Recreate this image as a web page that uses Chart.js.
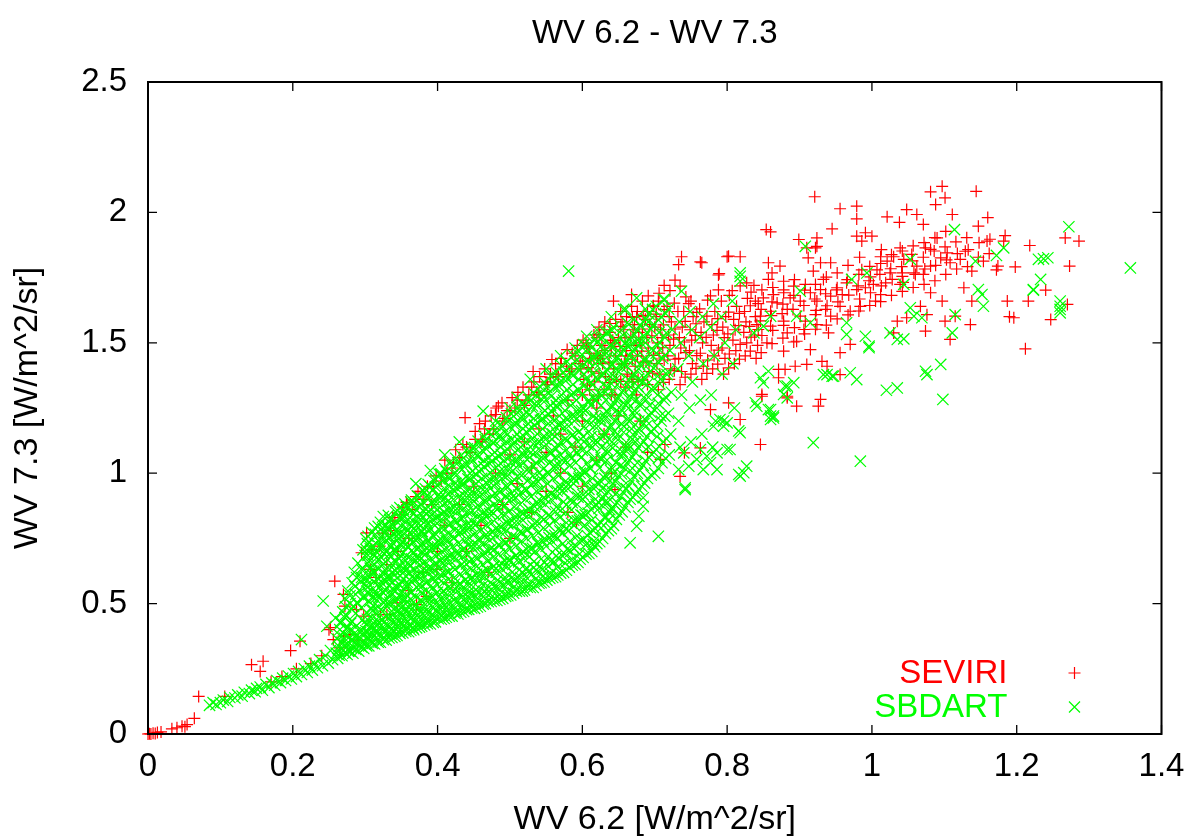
<!DOCTYPE html>
<html>
<head>
<meta charset="utf-8">
<script src="https://cdn.jsdelivr.net/npm/chart.js@4.4.1/dist/chart.umd.min.js"></script>
<style>html,body{margin:0;padding:0;background:#fff;}canvas{display:block;}</style>
</head>
<body>
<canvas id="c" width="1190" height="837"></canvas>
<script>
const xTickValues = [0, 0.2, 0.4, 0.6, 0.8, 1, 1.2, 1.4];
const xTickLabels = ['0', '0.2', '0.4', '0.6', '0.8', '1', '1.2', '1.4'];
const yTickValues = [0, 0.5, 1, 1.5, 2, 2.5];
const yTickLabels = ['0', '0.5', '1', '1.5', '2', '2.5'];
const seriesNames = ['SEVIRI', 'SBDART'];
const seriesColors = ['#ff0000', '#00ff00'];
const chartTitle = 'WV 6.2 - WV 7.3';
const xTitle = 'WV 6.2 [W/m^2/sr]';
const yTitle = 'WV 7.3 [W/m^2/sr]';

// SEVIRI (red +): main readings
const seviriMain = [
[0,0],[.002,.001],[.004,0],[.007,.003],[.01,.002],[.013,.006],[.018,.008],[.033,.02],[.04,.024],[.047,.03],[.051,.028],[.054,.036],[.064,.06],[.07,.144],[.106,.144],
[.143,.266],[.155,.24],[.159,.279],[.17,.2],[.185,.22],[.197,.32],[.205,.25],[.21,.356],[.225,.27],[.24,.3],[.25,.4],[.252,.408],[.256,.362],[.27,.375],[.279,.381],[.265,.33],[.29,.36],
[.258,.586],[.27,.535],[.272,.49],[.288,.477],[.298,.452],[.295,.695],[.302,.771],[.307,.631],[.309,.707],[.321,.458],[.33,.458],[.341,.816],[.344,.503],[.357,.888],[.358,.88],[.371,.496],[.373,.93],[.385,.528],[.392,.88],[.394,.95],[.399,.631],[.405,.97],[.413,1.0],[.42,1.02],[.422,1.04],[.43,1.06],[.435,1.11],[.438,1.213],[.445,1.08],[.452,1.13],[.46,1.12],[.465,1.17],[.472,1.15],[.32,.72],[.335,.78],[.35,.84],[.365,.86],[.38,.9],[.315,.6],[.33,.65],[.345,.7],[.36,.75],
[.36,.55],[.38,.62],[.4,.7],[.41,.8],[.42,.58],[.43,.88],[.44,.7],[.45,.95],[.46,.8],[.47,.62],[.48,1.0],[.49,.88],[.5,1.07],[.5,.75],[.51,.96],[.52,1.12],[.53,.85],[.53,1.02],[.54,1.17],[.55,.93],[.55,1.08],[.56,1.22],[.57,1.0],[.57,1.15],[.58,1.28],[.58,.85],[.59,1.1],[.6,1.2],[.6,.95],[.61,1.32],[.62,1.05],[.62,1.25],[.63,1.15],[.64,1.3],[.64,1.0],[.65,1.22],[.66,1.1],[.67,1.35],[.68,1.2],[.69,1.08],
[.48,1.225],[.484,1.257],[.49,1.2],[.5,1.24],[.51,1.28],[.52,1.26],[.53,1.33],[.532,1.39],[.54,1.3],[.55,1.35],[.556,1.367],[.558,1.436],[.565,1.38],[.57,1.42],[.579,1.474],[.585,1.4],[.59,1.45],[.6,1.43],[.605,1.5],[.61,1.46],[.62,1.52],[.625,1.44],[.63,1.55],[.64,1.48],[.643,1.66],[.65,1.52],[.655,1.58],[.66,1.45],[.668,1.685],[.67,1.55],[.675,1.6],[.68,1.5],[.69,1.62],[.7,1.56],[.705,1.66],[.71,1.52],[.72,1.6],[.733,1.8],[.735,1.717],[.737,1.83],[.74,1.62],[.75,1.66],[.763,1.81],[.788,1.76],[.8,1.83],[.818,1.83],
[.6,1.3],[.602,1.36],[.598,1.4],
[.615,1.28],[.617,1.35],[.613,1.39],[.616,1.44],
[.63,1.32],[.632,1.37],[.628,1.42],[.631,1.47],
[.645,1.3],[.647,1.36],[.643,1.4],[.646,1.45],[.644,1.5],
[.66,1.33],[.662,1.38],[.658,1.42],[.661,1.47],[.659,1.52],
[.675,1.3],[.677,1.36],[.673,1.41],[.676,1.45],[.674,1.49],[.678,1.54],
[.69,1.34],[.692,1.39],[.688,1.43],[.691,1.48],[.689,1.52],[.693,1.57],
[.705,1.32],[.707,1.38],[.703,1.42],[.706,1.46],[.704,1.5],[.708,1.55],[.702,1.6],
[.72,1.36],[.722,1.4],[.718,1.45],[.721,1.49],[.719,1.53],[.723,1.58],
[.735,1.34],[.737,1.39],[.733,1.44],[.736,1.48],[.734,1.52],[.738,1.56],[.732,1.62],
[.75,1.38],[.752,1.42],[.748,1.47],[.751,1.51],[.749,1.55],[.753,1.6],[.747,1.65],
[.765,1.36],[.767,1.41],[.763,1.46],[.766,1.5],[.764,1.54],[.768,1.58],[.762,1.63],
[.78,1.4],[.782,1.45],[.778,1.49],[.781,1.53],[.779,1.57],[.783,1.62],[.777,1.68],
[.795,1.38],[.797,1.44],[.793,1.48],[.796,1.52],[.794,1.56],[.798,1.6],[.792,1.66],
[.81,1.42],[.812,1.47],[.808,1.51],[.811,1.55],[.809,1.59],[.813,1.64],[.807,1.7],
[.825,1.45],[.827,1.5],[.823,1.54],[.826,1.58],[.824,1.62],[.828,1.67],
[.84,1.44],[.842,1.49],[.838,1.53],[.841,1.57],[.839,1.6],[.843,1.65],[.837,1.72],
[.839,1.66],[.843,1.551],[.846,1.602],[.85,1.672],[.855,1.5],[.86,1.621],[.86,1.564],[.864,1.685],[.869,1.653],[.871,1.398],[.878,1.692],[.878,1.583],[.878,1.468],[.883,1.628],[.883,1.538],[.887,1.672],[.892,1.717],[.896,1.506],[.901,1.66],[.901,1.602],[.906,1.551],[.908,1.724],[.915,1.692],[.915,1.474],[.922,1.608],[.924,1.66],[.924,1.57],[.929,1.704],[.936,1.628],[.94,1.538],[.943,1.679],[.943,1.602],[.952,1.711],[.956,1.64],[.956,1.462],[.959,1.685],[.965,1.73],[.97,1.621],[.97,1.494],[.979,1.704],[.984,1.64],[.986,1.78],[.991,1.711],[.998,1.753],[1.002,1.724],[1.005,1.66],[1.007,1.78],[1.012,1.685],[1.012,1.83],[1.019,1.73],[1.021,1.813],[1.025,1.768],[1.03,1.83],[1.03,1.538],[1.035,1.583],[1.039,1.864],[1.039,1.724],[1.042,1.755],[1.042,1.768],[1.044,1.82],[1.048,1.596],[1.055,1.839],[1.06,1.762],[1.062,1.794],[1.067,1.64],[1.071,1.762],[1.074,1.545],[1.076,1.608],[1.081,1.858],[1.081,1.794],[1.081,1.692],[1.095,1.826],[1.097,1.66],[1.101,1.583],[1.104,1.845],[1.108,1.807],[1.108,1.513],[1.115,1.602],[1.122,1.82],[1.127,1.711],[1.129,1.851],[1.136,1.57],[1.138,1.775],[1.138,1.66],[1.154,1.813],[1.172,1.78],[1.174,1.794],[1.187,1.66],[1.196,1.596],[1.198,1.791],[1.216,1.66],[1.24,1.702],[1.247,1.589],[1.27,1.647],[1.273,1.794],[1.212,1.477],[1.19,1.6],
[.854,1.934],[.86,1.925],[.899,1.896],[.924,1.902],[.922,1.864],[.945,1.937],[.979,1.909],[.991,1.922],[1.0,1.909],[.986,1.89],[1.071,1.954],[1.09,1.902],[1.074,1.864],[1.184,1.911],[1.147,1.947],[1.159,1.89],[1.182,1.89],[1.218,1.873],[1.267,1.902],[1.286,1.89],[1.097,2.1],[1.081,2.079],[1.144,2.081],[.921,2.06],[.979,2.024],[.956,2.014],[.979,1.975],[1.021,1.983],[1.048,2.011],[1.062,1.992],[1.038,1.962],[1.101,2.056],[1.088,2.03],[1.111,1.992],[1.16,1.98],[.91,1.864],[.924,1.87],[.912,1.826],[.929,1.807],[.943,1.807],[.919,1.775],[.933,1.743],[.857,1.807],[.873,1.794],[.857,1.743],[.862,1.768],[.827,1.73],[.878,1.736],[.765,1.807],[.802,1.832],[.789,1.765],
[.592,.81],[.645,.937],[.735,.988],[.741,1.078],[.714,1.11],[.708,1.053],[.763,1.097],[.846,1.11],[.848,1.295],[.883,1.295],[.802,1.27],[.777,1.244],[.818,1.206],[.896,1.257],[.926,1.257],[.929,1.283],[.871,1.366],[.88,1.398],[.894,1.41],[.91,1.417],[.931,1.429],[.938,1.41],[.956,1.378],[.848,1.302],[.883,1.289]
];

// SEVIRI: dense upper band (0.6 - 1.17)
const seviriBand = [
[.607,1.338],[.608,1.405],[.606,1.487],
[.622,1.296],[.623,1.384],[.621,1.452],[.624,1.531],
[.638,1.347],[.637,1.426],[.639,1.508],[.638,1.574],
[.653,1.352],[.654,1.418],[.652,1.486],[.653,1.563],
[.668,1.372],[.669,1.437],[.667,1.522],[.669,1.597],
[.683,1.357],[.684,1.426],[.682,1.468],[.683,1.553],[.684,1.604],
[.697,1.384],[.698,1.452],[.696,1.527],[.698,1.642],
[.712,1.348],[.713,1.434],[.711,1.481],[.712,1.569],[.713,1.627],
[.727,1.393],[.728,1.437],[.726,1.514],[.728,1.553],[.727,1.652],
[.742,1.368],[.743,1.462],[.741,1.503],[.742,1.582],[.743,1.676],
[.757,1.402],[.758,1.451],[.756,1.528],[.757,1.573],[.758,1.617],
[.772,1.383],[.773,1.434],[.771,1.521],[.772,1.602],[.773,1.664],
[.787,1.418],[.788,1.472],[.786,1.548],[.787,1.593],[.788,1.703],
[.802,1.404],[.803,1.457],[.801,1.534],[.802,1.618],[.803,1.682],
[.817,1.437],[.818,1.494],[.816,1.566],[.817,1.613],[.818,1.718],
[.832,1.468],[.833,1.522],[.831,1.563],[.832,1.642],[.833,1.694],
[.847,1.462],[.848,1.528],[.846,1.584],[.847,1.628],[.848,1.703],
[.862,1.497],[.863,1.548],[.861,1.604],[.862,1.657],[.863,1.712],
[.877,1.518],[.878,1.567],[.876,1.612],[.877,1.648],[.878,1.703],
[.892,1.503],[.893,1.558],[.891,1.628],[.892,1.682],[.893,1.742],
[.907,1.534],[.908,1.583],[.906,1.643],[.907,1.702],
[.922,1.552],[.923,1.624],[.921,1.668],[.922,1.724],
[.937,1.568],[.938,1.642],[.936,1.688],[.937,1.752],
[.952,1.592],[.953,1.657],[.951,1.703],[.952,1.768],
[.967,1.607],[.968,1.683],[.966,1.742],[.967,1.797],
[.982,1.622],[.983,1.668],[.981,1.718],[.982,1.762],[.983,1.828],
[.997,1.643],[.998,1.692],[.996,1.738],[.997,1.793],
[1.012,1.658],[1.013,1.718],[1.011,1.762],[1.012,1.804],[1.013,1.857],
[1.027,1.682],[1.028,1.743],[1.026,1.784],[1.027,1.838],
[1.042,1.697],[1.043,1.732],[1.041,1.792],[1.042,1.852],
[1.057,1.712],[1.058,1.768],[1.056,1.814],[1.057,1.872],
[1.072,1.724],[1.073,1.783],[1.071,1.828],[1.072,1.884],
[1.087,1.738],[1.088,1.797],[1.086,1.852],[1.087,1.903],
[1.102,1.762],[1.103,1.818],[1.101,1.868],[1.102,1.927],
[1.117,1.783],[1.118,1.842],[1.116,1.887],
[1.132,1.792],[1.133,1.857],[1.131,1.903],
[1.147,1.828],[1.148,1.884],
[1.162,1.842],[1.163,1.897]
];

// SEVIRI: marks along and just above the upper edge of the green cloud
const seviriEdge = [
[.452,1.16],[.458,1.19],[.466,1.2],[.474,1.22],[.481,1.25],[.489,1.27],[.496,1.24],[.503,1.29],[.511,1.31],[.518,1.33],[.526,1.3],[.533,1.35],[.541,1.37],[.548,1.4],[.556,1.38],[.563,1.42],[.571,1.44],[.578,1.41],[.586,1.46],[.593,1.49],[.601,1.51],[.608,1.48],[.616,1.53],[.623,1.56],[.631,1.58],[.638,1.54],[.646,1.59],[.653,1.62],[.661,1.6],[.668,1.64],[.676,1.62],[.683,1.66],[.691,1.68],[.698,1.64],[.706,1.69],[.713,1.72],[.721,1.7],[.728,1.74],
[.462,1.13],[.477,1.17],[.492,1.21],[.507,1.25],[.522,1.28],[.537,1.31],[.552,1.34],[.567,1.37],[.582,1.39],[.597,1.42],[.612,1.44],[.627,1.49],[.642,1.51],[.657,1.55],[.672,1.57],[.687,1.59],[.702,1.61],[.717,1.64],
[.41,1.05],[.425,1.09],[.44,1.1],[.398,.99],[.386,.95],[.37,.91],[.352,.87],[.338,.83],[.324,.77]
];

// SBDART (green x): band, core and outer readings
const sbdartMain = [
[.085,.11],[.09,.12],[.094,.113],[.1,.12],[.104,.13],[.11,.125],[.113,.14],[.12,.138],[.124,.15],[.13,.145],[.133,.16],[.14,.155],[.143,.168],[.148,.162],[.15,.175],[.155,.18],[.158,.168],[.163,.19],[.167,.178],[.171,.196],[.175,.187],[.178,.205],[.183,.197],[.186,.214],[.19,.205],[.194,.222],[.198,.211],[.201,.232],[.205,.22],[.208,.24],[.212,.228],[.212,.362],[.216,.25],[.22,.236],[.223,.26],[.227,.245],[.23,.27],[.234,.254],[.237,.285],[.241,.262],[.242,.51],[.245,.3],[.247,.413],[.249,.272],[.252,.32],[.255,.285],
[.262,.29],[.26,.31],[.264,.335],[.261,.365],[.265,.4],[.259,.445],
[.268,.3],[.27,.322],[.267,.352],[.271,.384],[.266,.425],[.269,.468],[.272,.52],
[.275,.305],[.277,.318],[.274,.345],[.278,.372],[.276,.41],[.273,.458],[.279,.5],[.276,.548],
[.283,.31],[.285,.33],[.282,.356],[.286,.388],[.281,.432],[.284,.49],[.287,.535],[.282,.58],[.285,.62],
[.291,.318],[.293,.342],[.29,.368],[.294,.4],[.289,.5],[.292,.552],[.295,.6],[.29,.655],
[.298,.328],[.3,.352],[.297,.378],[.301,.42],[.299,.525],[.302,.57],[.296,.628],[.3,.684],[.303,.73],
[.305,.338],[.307,.36],[.304,.392],[.308,.448],[.306,.508],[.303,.562],[.309,.612],[.305,.66],[.307,.71],[.304,.758],
[.313,.345],[.315,.37],[.312,.402],[.316,.44],[.311,.492],[.314,.548],[.317,.598],[.312,.652],[.315,.7],[.318,.742],[.313,.79],
[.321,.352],[.323,.378],[.32,.41],[.324,.47],[.319,.522],[.322,.568],[.325,.62],[.32,.668],[.323,.718],[.326,.77],[.321,.812],
[.329,.36],[.331,.386],[.328,.42],[.332,.458],[.327,.512],[.33,.56],[.333,.608],[.328,.66],[.331,.702],[.334,.752],[.329,.8],[.332,.838],
[.337,.37],[.339,.398],[.336,.432],[.34,.48],[.335,.53],[.338,.582],[.341,.628],[.336,.68],[.339,.73],[.342,.778],[.337,.826],
[.344,.378],[.346,.408],[.343,.44],[.347,.492],[.342,.548],[.345,.6],[.348,.65],[.343,.7],[.346,.748],[.349,.8],[.344,.858],
[.352,.388],[.354,.418],[.351,.452],[.355,.5],[.35,.54],[.353,.592],[.356,.64],[.351,.69],[.354,.742],[.357,.79],[.352,.838],[.355,.882],
[.36,.392],[.362,.42],[.359,.462],[.363,.518],[.358,.572],[.361,.62],[.364,.672],[.359,.72],[.362,.772],[.365,.82],[.36,.87],
[.367,.4],[.369,.432],[.366,.47],[.37,.528],[.365,.582],[.368,.632],[.371,.68],[.366,.732],[.369,.78],[.372,.832],[.367,.888],
[.375,.41],[.377,.44],[.374,.48],[.378,.54],[.373,.598],[.376,.648],[.379,.7],[.374,.752],[.377,.8],[.38,.858],[.375,.908],
[.382,.418],[.384,.448],[.381,.49],[.385,.552],[.38,.608],[.383,.66],[.386,.712],[.381,.762],[.384,.818],[.387,.87],[.382,.928],
[.39,.422],[.392,.458],[.389,.5],[.393,.56],[.388,.618],[.391,.672],[.394,.722],[.389,.78],[.392,.84],[.395,.898],[.39,.948],
[.397,.43],[.399,.468],[.396,.508],[.4,.572],[.395,.628],[.398,.682],[.401,.742],[.396,.8],[.399,.858],[.402,.918],[.397,.978],
[.405,.44],[.407,.47],[.404,.518],[.408,.58],[.403,.642],[.406,.7],[.409,.758],[.404,.82],[.407,.878],[.41,.94],[.405,.998],
[.412,.448],[.414,.478],[.411,.528],[.415,.592],[.41,.65],[.413,.712],[.416,.77],[.411,.83],[.414,.892],[.417,.95],[.412,1.008],
[.42,.452],[.422,.49],[.419,.538],[.423,.6],[.418,.662],[.421,.72],[.424,.782],[.419,.842],[.422,.9],[.425,.962],[.42,1.028],
[.428,.46],[.43,.5],[.427,.548],[.431,.612],[.426,.672],[.429,.732],[.432,.79],[.427,.852],[.43,.912],[.433,.97],[.428,1.04],
[.436,.47],[.438,.51],[.435,.56],[.439,.622],[.434,.68],[.437,.742],[.44,.8],[.435,.862],[.438,.928],[.441,.99],[.436,1.058],
[.443,.478],[.445,.52],[.442,.57],[.446,.632],[.441,.69],[.444,.752],[.447,.818],[.442,.88],[.445,.94],[.448,1.008],[.443,1.078],
[.451,.482],[.453,.528],[.45,.58],[.454,.642],[.449,.712],[.452,.77],[.455,.83],[.45,.892],[.453,.96],[.456,1.028],[.451,1.098],
[.459,.49],[.461,.532],[.458,.59],[.462,.65],[.457,.72],[.46,.782],[.463,.848],[.458,.91],[.461,.98],[.464,1.048],[.459,1.108],
[.466,.5],[.468,.54],[.465,.6],[.469,.662],[.464,.73],[.467,.8],[.47,.862],[.465,.93],[.468,.99],[.471,1.06],[.466,1.128],
[.474,.508],[.476,.55],[.473,.61],[.477,.678],[.472,.742],[.475,.81],[.478,.88],[.473,.942],[.476,1.01],[.479,1.08],[.474,1.148],
[.482,.512],[.484,.56],[.481,.62],[.485,.69],[.48,.76],[.483,.83],[.486,.892],[.481,.96],[.484,1.03],[.487,1.1],[.482,1.158],
[.49,.52],[.492,.57],[.489,.632],[.493,.7],[.488,.772],[.491,.84],[.494,.91],[.489,.98],[.492,1.048],[.495,1.12],[.49,1.178],
[.497,.53],[.499,.58],[.496,.642],[.5,.71],[.495,.78],[.498,.852],[.501,.92],[.496,.99],[.499,1.06],[.502,1.13],[.497,1.198],
[.505,.54],[.507,.59],[.504,.65],[.508,.72],[.503,.8],[.506,.87],[.509,.94],[.504,1.01],[.507,1.08],[.51,1.15],[.505,1.218],
[.513,.548],[.515,.6],[.512,.66],[.516,.74],[.511,.81],[.514,.88],[.517,.952],[.512,1.03],[.515,1.1],[.518,1.17],[.513,1.238],
[.52,.552],[.522,.602],[.519,.672],[.523,.75],[.518,.82],[.521,.9],[.524,.97],[.519,1.04],[.522,1.12],[.525,1.19],[.52,1.258],
[.528,.562],[.53,.612],[.527,.68],[.531,.76],[.526,.84],[.529,.91],[.532,.99],[.527,1.06],[.53,1.13],[.533,1.21],[.528,1.278],
[.536,.57],[.538,.622],[.535,.7],[.539,.77],[.534,.85],[.537,.93],[.54,1.0],[.535,1.08],[.538,1.15],[.541,1.22],[.536,1.298],
[.543,.58],[.545,.632],[.542,.71],[.546,.79],[.541,.87],[.544,.94],[.547,1.02],[.542,1.09],[.545,1.17],[.548,1.24],[.543,1.308],
[.551,.59],[.553,.642],[.55,.72],[.554,.8],[.549,.88],[.552,.96],[.555,1.04],[.55,1.11],[.553,1.19],[.556,1.26],[.551,1.328],
[.559,.6],[.561,.66],[.558,.74],[.562,.82],[.557,.9],[.56,.98],[.563,1.06],[.558,1.13],[.561,1.2],[.564,1.28],[.559,1.348],
[.566,.61],[.568,.67],[.565,.75],[.569,.83],[.564,.91],[.567,.99],[.57,1.07],[.565,1.15],[.568,1.22],[.571,1.3],[.566,1.368],
[.574,.62],[.576,.69],[.573,.77],[.577,.85],[.572,.93],[.575,1.01],[.578,1.09],[.573,1.17],[.576,1.24],[.579,1.32],[.574,1.388],
[.582,.64],[.584,.7],[.581,.78],[.585,.86],[.58,.94],[.583,1.03],[.586,1.11],[.581,1.18],[.584,1.26],[.587,1.34],[.582,1.408],
[.59,.65],[.592,.72],[.589,.8],[.593,.88],[.588,.96],[.591,1.04],[.594,1.12],[.589,1.2],[.592,1.28],[.595,1.36],[.59,1.428],
[.597,.67],[.599,.74],[.596,.82],[.6,.9],[.595,.98],[.598,1.06],[.601,1.14],[.596,1.22],[.599,1.3],[.602,1.38],[.597,1.448],
[.605,.69],[.607,.76],[.604,.84],[.608,.92],[.603,1.0],[.606,1.08],[.609,1.16],[.604,1.24],[.607,1.32],[.61,1.4],[.605,1.468],
[.613,.7],[.615,.78],[.612,.86],[.616,.94],[.611,1.02],[.614,1.1],[.617,1.18],[.612,1.26],[.615,1.34],[.618,1.42],[.613,1.48],
[.62,.73],[.622,.8],[.619,.88],[.623,.96],[.618,1.04],[.621,1.12],[.624,1.2],[.619,1.28],[.622,1.36],[.625,1.44],[.62,1.5],
[.628,.75],[.63,.83],[.627,.9],[.631,.98],[.626,1.06],[.629,1.14],[.632,1.22],[.627,1.3],[.63,1.38],[.633,1.46],[.628,1.52],
[.636,.78],[.638,.86],[.635,.93],[.639,1.01],[.634,1.09],[.637,1.17],[.64,1.25],[.635,1.33],[.638,1.41],[.641,1.48],[.636,1.54],
[.643,.8],[.645,.88],[.642,.96],[.646,1.04],[.641,1.12],[.644,1.2],[.647,1.28],[.642,1.36],[.645,1.44],[.648,1.5],[.643,1.56],
[.651,.84],[.653,.91],[.65,.99],[.654,1.07],[.649,1.15],[.652,1.23],[.655,1.31],[.65,1.39],[.653,1.46],[.656,1.53],
[.659,.87],[.661,.94],[.658,1.02],[.662,1.1],[.657,1.18],[.66,1.26],[.663,1.34],[.658,1.42],[.661,1.49],[.664,1.57],
[.666,.9],[.668,.97],[.665,1.05],[.669,1.13],[.664,1.21],[.667,1.29],[.67,1.37],[.665,1.45],[.668,1.52],[.671,1.59],
[.674,.92],[.676,1.0],[.673,1.08],[.677,1.16],[.672,1.24],[.675,1.32],[.678,1.4],[.673,1.48],[.676,1.55],
[.682,.95],[.684,1.03],[.681,1.11],[.685,1.19],[.68,1.27],[.683,1.35],[.686,1.43],[.681,1.5],[.684,1.58],[.687,1.63],
[.69,.98],[.692,1.06],[.689,1.14],[.693,1.22],[.688,1.3],[.691,1.38],[.694,1.46],[.689,1.54],[.692,1.61],
[.7,1.0],[.702,1.09],[.699,1.17],[.703,1.25],[.698,1.33],[.701,1.41],[.704,1.49],[.699,1.57],[.702,1.64],
[.71,1.04],[.712,1.12],[.709,1.2],[.713,1.28],[.708,1.36],[.711,1.44],[.714,1.52],[.709,1.6],
[.72,1.07],[.722,1.15],[.719,1.23],[.723,1.31],[.718,1.39],[.721,1.47],[.724,1.55],[.719,1.63],
[.735,1.1],[.733,1.2],[.737,1.3],[.732,1.4],[.736,1.5],[.734,1.58],
[.75,1.12],[.748,1.25],[.752,1.35],[.747,1.45],[.751,1.55],[.749,1.62],
[.765,1.15],[.763,1.28],[.767,1.42],[.762,1.52],[.766,1.6],
[.78,1.1],[.778,1.3],[.782,1.45],[.777,1.56],[.781,1.65],
[.795,1.2],[.793,1.38],[.797,1.5],[.792,1.6],
[.81,1.25],[.808,1.42],[.812,1.55],[.807,1.66],
[.463,1.238],[.528,1.36],[.606,1.525],[.66,1.628],[.714,1.666],[.48,1.2],[.5,1.25],[.51,1.29],[.55,1.4],[.57,1.45],[.59,1.48],[.62,1.55],[.64,1.6],[.43,1.12],[.41,1.07],[.39,1.01],[.37,.96],[.404,.995],[.332,.79],
[.581,1.775],[.712,1.666],[.737,1.698],[.818,1.755],[.675,1.672],[.657,1.628],[.818,1.768],[.818,1.736],[.908,1.87],[.857,1.391],[.846,1.366],[.933,1.378],[.945,1.372],[.883,1.334],[.878,1.302],[.86,1.244],[.864,1.212],[.839,1.27],[.818,1.155],[.919,1.117],[.823,1.002],[.816,.995],[.8,1.091],[.786,1.078],[.772,1.065],[.758,1.053],[.79,1.206],[.795,1.18],[.781,1.18],[.742,.944],[.747,1.027],[.733,1.014],[.818,.989],[.827,1.027],[.786,1.014],[.777,1.04],[.804,1.091],[.742,.937],[.705,.758],[.675,.797],[.678,.835],[.666,.733],[.615,.727],[.638,.848],[.634,.886],[.684,.873],[.684,.906],[.74,1.078],[.763,1.091],[.767,1.014],[.86,1.219],[.892,1.347],[.85,1.347],[.88,1.334],[.816,1.162],[.8,1.193],[.784,1.2],
[1.272,1.945],[1.357,1.787],[1.237,1.822],[1.23,1.82],[1.243,1.826],[1.233,1.743],[1.223,1.702],[1.26,1.66],[1.26,1.64],[1.26,1.615],[1.182,1.864],[1.172,1.835],[1.143,1.813],[1.114,1.934],[1.053,1.82],[1.044,1.724],[.993,1.768],[.972,1.743],[.901,1.698],[.915,1.577],[.896,1.602],[.86,1.602],[.85,1.564],[.837,1.538],[.965,1.577],[.965,1.532],[.991,1.525],[.996,1.481],[1.025,1.538],[1.035,1.513],[1.044,1.515],[1.053,1.634],[1.058,1.602],[1.069,1.596],[1.115,1.608],[1.111,1.538],[1.147,1.704],[1.152,1.685],[1.154,1.64],[1.223,1.704],[1.26,1.628],[1.074,1.391],[1.076,1.378],[1.095,1.417],[1.098,1.283],[1.02,1.318],[1.035,1.327],[.97,1.385],[.979,1.359],[.938,1.378],[.947,1.372],[.996,1.487],[.984,1.046],[.864,1.219],[.857,1.244],[.86,1.206],[.883,1.289],[.841,1.257]
];

// SBDART: second reading pass over the dense core
const sbdartCore = [
[.264,.302],[.263,.322],[.265,.378],[.266,.43],
[.272,.312],[.273,.34],[.271,.368],[.274,.402],[.272,.446],[.273,.488],
[.279,.318],[.28,.334],[.281,.362],[.279,.398],[.28,.425],[.281,.478],[.279,.53],
[.287,.324],[.288,.347],[.286,.371],[.288,.415],[.287,.463],[.289,.505],[.286,.566],[.288,.6],
[.295,.334],[.296,.351],[.294,.39],[.296,.436],[.295,.485],[.297,.524],[.294,.585],[.296,.636],[.297,.706],
[.302,.338],[.303,.374],[.301,.396],[.303,.44],[.302,.466],[.304,.545],[.301,.597],[.303,.655],[.302,.706],[.301,.748],
[.31,.347],[.311,.383],[.309,.417],[.311,.475],[.31,.526],[.312,.583],[.309,.626],[.311,.687],[.31,.72],[.309,.773],
[.318,.352],[.317,.392],[.319,.427],[.318,.488],[.316,.537],[.319,.594],[.318,.633],[.317,.695],[.319,.738],[.318,.796],
[.325,.362],[.326,.404],[.324,.437],[.326,.503],[.325,.541],[.327,.588],[.324,.647],[.326,.691],[.325,.746],[.327,.783],[.325,.834],
[.333,.368],[.334,.41],[.332,.446],[.333,.497],[.335,.538],[.332,.592],[.334,.631],[.333,.689],[.335,.727],[.332,.784],[.334,.823],
[.341,.374],[.342,.418],[.34,.461],[.341,.506],[.343,.566],[.34,.608],[.342,.659],[.341,.702],[.343,.761],[.34,.797],[.342,.852],
[.348,.386],[.349,.427],[.347,.474],[.349,.524],[.348,.571],[.35,.63],[.347,.672],[.349,.73],[.348,.771],[.35,.826],[.348,.868],
[.356,.393],[.357,.438],[.355,.478],[.356,.534],[.358,.582],[.355,.627],[.357,.684],[.356,.726],[.358,.783],[.355,.834],[.357,.873],
[.363,.398],[.364,.448],[.362,.493],[.363,.541],[.365,.604],[.362,.643],[.364,.703],[.363,.748],[.365,.797],[.362,.854],[.364,.897],
[.371,.407],[.372,.453],[.37,.497],[.371,.563],[.373,.606],[.37,.664],[.372,.707],[.371,.762],[.373,.806],[.37,.862],[.372,.913],
[.378,.413],[.379,.462],[.377,.514],[.378,.567],[.38,.628],[.377,.672],[.379,.728],[.378,.776],[.38,.834],[.377,.877],[.379,.934],
[.386,.423],[.387,.468],[.385,.523],[.386,.583],[.388,.637],[.385,.694],[.387,.742],[.386,.806],[.388,.852],[.385,.913],[.387,.957],
[.394,.428],[.395,.483],[.393,.526],[.394,.593],[.396,.647],[.393,.708],[.395,.757],[.394,.823],[.396,.872],[.393,.934],[.395,.972],
[.401,.442],[.402,.483],[.4,.544],[.401,.597],[.403,.664],[.4,.718],[.402,.784],[.401,.837],[.403,.903],[.4,.952],[.402,.997],
[.409,.443],[.41,.494],[.408,.547],[.409,.614],[.411,.672],[.408,.738],[.41,.787],[.409,.853],[.411,.907],[.408,.973],[.41,1.017],
[.416,.452],[.417,.503],[.415,.563],[.416,.622],[.418,.688],[.415,.742],[.417,.808],[.416,.862],[.418,.928],[.415,.982],[.417,1.043],
[.424,.463],[.425,.507],[.423,.574],[.424,.632],[.426,.698],[.423,.752],[.425,.818],[.424,.872],[.426,.943],[.423,.997],[.425,1.057],
[.432,.467],[.433,.523],[.431,.577],[.432,.648],[.434,.706],[.431,.773],[.433,.827],[.432,.898],[.434,.952],[.431,1.023],[.433,1.068],
[.44,.477],[.441,.527],[.439,.593],[.44,.652],[.442,.723],[.439,.782],[.441,.853],[.44,.907],[.442,.978],[.439,1.037],[.441,1.093],
[.447,.483],[.448,.538],[.446,.597],[.447,.668],[.449,.727],[.446,.798],[.448,.857],[.447,.928],[.449,.987],[.446,1.058],[.448,1.097],
[.455,.487],[.456,.543],[.454,.613],[.455,.672],[.457,.748],[.454,.807],[.456,.878],[.455,.937],[.457,1.008],[.454,1.067],[.456,1.123],
[.463,.498],[.464,.547],[.462,.623],[.463,.687],[.465,.758],[.462,.822],[.464,.893],[.463,.952],[.465,1.023],[.462,1.087],[.464,1.143],
[.47,.507],[.471,.563],[.469,.627],[.47,.703],[.472,.767],[.469,.838],[.471,.902],[.47,.973],[.472,1.037],[.469,1.108],[.471,1.157],
[.478,.512],[.479,.567],[.477,.643],[.478,.707],[.48,.788],[.477,.847],[.479,.923],[.478,.987],[.48,1.058],[.477,1.117],[.479,1.183],
[.486,.517],[.487,.578],[.485,.647],[.486,.723],[.488,.792],[.485,.868],[.487,.932],[.486,1.008],[.488,1.072],[.485,1.143],[.487,1.187],
[.494,.528],[.495,.583],[.493,.663],[.494,.732],[.496,.813],[.493,.877],[.495,.953],[.494,1.017],[.496,1.093],[.493,1.157],[.495,1.213],
[.501,.533],[.502,.598],[.5,.667],[.501,.748],[.503,.817],[.5,.898],[.502,.962],[.501,1.043],[.503,1.107],[.5,1.178],[.502,1.227],
[.509,.547],[.51,.603],[.508,.683],[.509,.752],[.511,.838],[.508,.907],[.51,.988],[.509,1.052],[.511,1.128],[.508,1.192],[.51,1.253],
[.517,.548],[.518,.618],[.516,.692],[.517,.773],[.519,.847],[.516,.928],[.518,.997],[.517,1.078],[.519,1.142],[.516,1.218],[.518,1.267],
[.524,.563],[.525,.622],[.523,.708],[.524,.782],[.526,.863],[.523,.937],[.525,1.018],[.524,1.087],[.526,1.168],[.523,1.232],[.525,1.293],
[.532,.562],[.533,.638],[.531,.712],[.532,.798],[.534,.872],[.531,.958],[.533,1.027],[.532,1.113],[.534,1.182],[.531,1.258],[.533,1.307],
[.54,.578],[.541,.642],[.539,.728],[.54,.807],[.542,.893],[.539,.967],[.541,1.053],[.54,1.122],[.542,1.203],[.539,1.267],[.541,1.333],
[.547,.583],[.548,.658],[.546,.737],[.547,.823],[.549,.902],[.546,.988],[.548,1.062],[.547,1.143],[.549,1.217],[.546,1.293],[.548,1.347],
[.555,.597],[.556,.662],[.554,.753],[.555,.832],[.557,.923],[.554,.997],[.556,1.083],[.555,1.157],[.557,1.238],[.554,1.307],[.556,1.373],
[.563,.603],[.564,.683],[.562,.762],[.563,.853],[.565,.932],[.562,1.018],[.564,1.093],[.563,1.178],[.565,1.252],[.562,1.333],[.564,1.387],
[.57,.617],[.571,.687],[.569,.778],[.57,.857],[.572,.948],[.569,1.027],[.571,1.118],[.57,1.192],[.572,1.273],[.569,1.347],[.571,1.413],
[.578,.628],[.579,.708],[.577,.787],[.578,.878],[.58,.957],[.577,1.048],[.579,1.127],[.578,1.213],[.58,1.287],[.577,1.373],[.579,1.427],
[.586,.647],[.587,.717],[.585,.808],[.586,.887],[.588,.978],[.585,1.057],[.587,1.148],[.586,1.222],[.588,1.308],[.585,1.382],[.587,1.453],
[.594,.658],[.595,.738],[.593,.817],[.594,.908],[.596,.987],[.593,1.078],[.595,1.157],[.594,1.243],[.596,1.317],[.593,1.403],[.595,1.467],
[.601,.677],[.602,.747],[.6,.838],[.601,.917],[.603,1.008],[.6,1.087],[.602,1.178],[.601,1.252],[.603,1.338],[.6,1.412],[.602,1.493],
[.609,.692],[.61,.773],[.608,.847],[.609,.938],[.611,1.017],[.608,1.108],[.61,1.187],[.609,1.273],[.611,1.347],[.608,1.433],[.61,1.497],
[.617,.718],[.618,.787],[.616,.873],[.617,.952],[.619,1.043],[.616,1.117],[.618,1.208],[.617,1.282],[.619,1.368],[.616,1.442],[.618,1.513],
[.624,.737],[.625,.813],[.623,.887],[.624,.973],[.626,1.052],[.623,1.138],[.625,1.212],[.624,1.303],[.626,1.377],[.623,1.458],[.625,1.517],
[.632,.768],[.633,.832],[.631,.918],[.632,.992],[.634,1.078],[.631,1.152],[.633,1.238],[.632,1.312],[.634,1.398],[.631,1.467],[.633,1.538],
[.64,.787],[.641,.863],[.639,.937],[.64,1.023],[.642,1.097],[.639,1.183],[.641,1.257],[.64,1.343],[.642,1.417],[.639,1.493],[.641,1.547],
[.647,.823],[.648,.887],[.646,.968],[.647,1.042],[.649,1.128],[.646,1.202],[.648,1.288],[.647,1.362],[.649,1.443],[.646,1.507],
[.655,.852],[.656,.928],[.654,.997],[.655,1.083],[.657,1.157],[.654,1.243],[.656,1.317],[.655,1.403],[.657,1.472],[.654,1.548],
[.663,.888],[.664,.952],[.662,1.038],[.663,1.112],[.665,1.198],[.662,1.272],[.664,1.358],[.663,1.432],[.665,1.513],[.662,1.577],
[.67,.907],[.671,.988],[.669,1.062],[.67,1.148],[.672,1.222],[.669,1.308],[.671,1.382],[.67,1.468],[.672,1.532],
[.678,.938],[.679,1.012],[.677,1.098],[.678,1.172],[.68,1.258],[.677,1.332],[.679,1.418],[.678,1.487],[.68,1.568],
[.686,.962],[.687,1.048],[.685,1.122],[.686,1.208],[.688,1.282],[.685,1.368],[.687,1.442],[.686,1.523],[.688,1.592],
[.695,.993],[.696,1.072],[.694,1.158],[.695,1.232],[.697,1.318],[.694,1.392],[.696,1.478],[.695,1.552],[.697,1.628],
[.705,1.018],[.706,1.103],[.704,1.182],[.705,1.268],[.707,1.342],[.704,1.428],[.706,1.502],[.705,1.588],
[.715,1.057],[.716,1.132],[.714,1.218],[.715,1.292],[.717,1.378],[.714,1.452],[.716,1.538],[.715,1.612]
];

// SBDART: third pass, marks lying between the two earlier passes
const sbdartFill = [
[.306,.376],[.303,.421],[.308,.478],[.305,.535],[.302,.587],[.307,.636],[.304,.685],[.306,.734],
[.316,.386],[.313,.421],[.318,.466],[.314,.52],[.317,.573],[.312,.625],[.316,.676],[.319,.721],[.314,.766],
[.326,.394],[.323,.44],[.328,.496],[.324,.545],[.327,.594],[.322,.644],[.326,.693],[.329,.744],[.324,.791],
[.336,.384],[.333,.415],[.338,.456],[.334,.505],[.337,.556],[.332,.605],[.336,.654],[.339,.705],[.334,.754],[.337,.802],
[.346,.393],[.343,.424],[.348,.466],[.344,.52],[.347,.574],[.342,.625],[.346,.675],[.349,.724],[.344,.774],[.347,.829],
[.356,.403],[.353,.435],[.358,.476],[.354,.52],[.357,.566],[.352,.616],[.356,.665],[.359,.716],[.354,.766],[.357,.814],[.353,.86],
[.366,.406],[.363,.441],[.368,.49],[.364,.545],[.367,.596],[.362,.646],[.366,.696],[.369,.746],[.364,.796],[.367,.845],[.363,.89],
[.376,.425],[.373,.46],[.378,.51],[.374,.569],[.377,.623],[.372,.674],[.376,.726],[.379,.776],[.374,.829],[.377,.883],
[.386,.433],[.383,.469],[.388,.521],[.384,.58],[.387,.634],[.382,.686],[.386,.737],[.389,.79],[.384,.844],[.387,.899],[.383,.94],
[.396,.449],[.393,.488],[.398,.54],[.394,.6],[.397,.655],[.392,.712],[.396,.771],[.399,.829],[.394,.888],[.397,.948],
[.406,.455],[.403,.494],[.408,.549],[.404,.611],[.407,.671],[.402,.729],[.406,.789],[.409,.849],[.404,.909],[.407,.969],
[.416,.463],[.413,.503],[.418,.56],[.414,.621],[.417,.681],[.412,.741],[.416,.8],[.419,.861],[.414,.921],[.417,.979],
[.426,.471],[.423,.514],[.428,.569],[.424,.631],[.427,.691],[.422,.751],[.426,.812],[.429,.871],[.424,.931],[.427,.995],
[.436,.49],[.433,.535],[.438,.591],[.434,.651],[.437,.711],[.432,.771],[.436,.831],[.439,.895],[.434,.959],[.437,1.024],
[.446,.499],[.443,.545],[.448,.601],[.444,.661],[.447,.721],[.442,.785],[.446,.849],[.449,.91],[.444,.974],[.447,1.043],
[.456,.505],[.453,.554],[.458,.611],[.454,.677],[.457,.741],[.452,.8],[.456,.861],[.459,.926],[.454,.994],[.457,1.063],
[.466,.52],[.463,.57],[.468,.631],[.464,.696],[.467,.765],[.462,.831],[.466,.896],[.469,.96],[.464,1.025],[.467,1.094],
[.476,.529],[.473,.58],[.478,.644],[.474,.71],[.477,.776],[.472,.845],[.476,.911],[.479,.976],[.474,1.045],[.477,1.114],
[.486,.536],[.483,.59],[.488,.655],[.484,.725],[.487,.795],[.482,.861],[.486,.926],[.489,.995],[.484,1.065],[.487,1.129],
[.496,.545],[.493,.601],[.498,.666],[.494,.736],[.497,.806],[.492,.875],[.496,.945],[.499,1.014],[.494,1.084],[.497,1.149],
[.506,.565],[.503,.62],[.508,.685],[.504,.76],[.507,.835],[.502,.905],[.506,.975],[.509,1.045],[.504,1.115],[.507,1.184],
[.516,.574],[.513,.63],[.518,.7],[.514,.775],[.517,.845],[.512,.916],[.516,.991],[.519,1.065],[.514,1.135],[.517,1.204],
[.526,.577],[.523,.637],[.528,.711],[.524,.785],[.527,.86],[.522,.935],[.526,1.005],[.529,1.08],[.524,1.155],[.527,1.224],
[.536,.596],[.533,.661],[.538,.735],[.534,.81],[.537,.89],[.532,.965],[.536,1.04],[.539,1.115],[.534,1.185],[.537,1.259],
[.546,.606],[.543,.671],[.548,.75],[.544,.83],[.547,.905],[.542,.98],[.546,1.055],[.549,1.13],[.544,1.205],[.547,1.274],
[.556,.616],[.553,.681],[.558,.76],[.554,.84],[.557,.92],[.552,1.0],[.556,1.075],[.559,1.15],[.554,1.225],[.557,1.294],
[.566,.64],[.563,.71],[.568,.79],[.564,.87],[.567,.95],[.562,1.03],[.566,1.11],[.569,1.185],[.564,1.26],[.567,1.334],
[.576,.655],[.573,.73],[.578,.81],[.574,.89],[.577,.97],[.572,1.05],[.576,1.13],[.579,1.205],[.574,1.28],[.577,1.354],
[.586,.67],[.583,.74],[.588,.82],[.584,.9],[.587,.985],[.582,1.07],[.586,1.145],[.589,1.22],[.584,1.3],[.587,1.374],
[.596,.69],[.593,.76],[.598,.84],[.594,.92],[.597,1.0],[.592,1.08],[.596,1.16],[.599,1.24],[.594,1.32],[.597,1.395],
[.606,.73],[.603,.8],[.608,.88],[.604,.96],[.607,1.04],[.602,1.12],[.606,1.2],[.609,1.28],[.604,1.36],[.607,1.43],
[.616,.74],[.613,.82],[.618,.9],[.614,.98],[.617,1.06],[.612,1.14],[.616,1.22],[.619,1.3],[.614,1.38],[.617,1.45],
[.626,.79],[.623,.865],[.628,.94],[.624,1.02],[.627,1.1],[.622,1.18],[.626,1.26],[.629,1.34],[.624,1.42],[.627,1.49],
[.636,.82],[.633,.895],[.638,.97],[.634,1.05],[.637,1.13],[.632,1.21],[.636,1.29],[.639,1.37],[.634,1.445],
[.646,.92],[.643,1.0],[.648,1.08],[.644,1.16],[.647,1.24],[.642,1.32],[.646,1.4],[.649,1.47],
[.656,.95],[.653,1.03],[.658,1.11],[.654,1.19],[.657,1.27],[.652,1.35],[.656,1.42],[.659,1.5],
[.666,1.01],[.663,1.09],[.668,1.17],[.664,1.25],[.667,1.33],[.662,1.41],[.666,1.49],
[.676,1.04],[.673,1.12],[.678,1.2],[.674,1.28],[.677,1.36],[.672,1.44],[.676,1.51],
[.691,1.1],[.688,1.18],[.693,1.26],[.689,1.34],[.692,1.42],[.687,1.5],[.691,1.58],
[.706,1.06],[.703,1.14],[.708,1.22],[.704,1.3],[.707,1.38],[.702,1.46],[.706,1.54]
];

const FONT = "'Liberation Sans', Arial, Helvetica, sans-serif";
const toPoints = arr => arr.map(p => ({ x: p[0], y: p[1] }));

const framePlugin = {
  id: 'gnuFrame',
  afterDatasetsDraw(chart) {
    const { ctx, chartArea: a, scales: { x, y } } = chart;
    ctx.save();
    ctx.strokeStyle = '#000';
    ctx.lineWidth = 1.3;
    const T = 9;
    ctx.beginPath();
    xTickValues.forEach(v => {
      const px = x.getPixelForValue(v);
      ctx.moveTo(px, a.bottom); ctx.lineTo(px, a.bottom - T);
      ctx.moveTo(px, a.top); ctx.lineTo(px, a.top + T);
    });
    yTickValues.forEach(v => {
      const py = y.getPixelForValue(v);
      ctx.moveTo(a.left, py); ctx.lineTo(a.left + T, py);
      ctx.moveTo(a.right, py); ctx.lineTo(a.right - T, py);
    });
    ctx.stroke();
    ctx.lineWidth = 2;
    ctx.strokeRect(a.left, a.top, a.right - a.left, a.bottom - a.top);

    // title, centred over the plot area
    ctx.fillStyle = '#000';
    ctx.font = '33px ' + FONT;
    ctx.textAlign = 'center';
    ctx.textBaseline = 'middle';
    ctx.fillText(chartTitle, (a.left + a.right) / 2, 34);

    // legend (gnuplot style: text right-aligned, sample to the right)
    ctx.font = '33px ' + FONT;
    ctx.textAlign = 'right';
    const tx = a.right - 154;
    const sx = a.right - 87;
    const rows = [a.bottom - 61, a.bottom - 27];
    rows.forEach((ry, i) => {
      ctx.fillStyle = seriesColors[i];
      ctx.fillText(seriesNames[i], tx, ry + 1);
      ctx.strokeStyle = seriesColors[i];
      ctx.lineWidth = 1.2;
      ctx.beginPath();
      if (i === 0) {
        ctx.moveTo(sx - 6, ry); ctx.lineTo(sx + 6, ry);
        ctx.moveTo(sx, ry - 6); ctx.lineTo(sx, ry + 6);
      } else {
        ctx.moveTo(sx - 5.5, ry - 5.5); ctx.lineTo(sx + 5.5, ry + 5.5);
        ctx.moveTo(sx - 5.5, ry + 5.5); ctx.lineTo(sx + 5.5, ry - 5.5);
      }
      ctx.stroke();
    });
    ctx.restore();
  }
};

new Chart(document.getElementById('c'), {
  type: 'scatter',
  data: {
    datasets: [
      {
        label: seriesNames[0],
        data: toPoints(seviriMain.concat(seviriBand, seviriEdge)),
        pointStyle: 'cross',
        pointRadius: 6,
        pointBorderWidth: 1.2,
        borderColor: seriesColors[0],
        backgroundColor: seriesColors[0],
        order: 1,
        clip: false
      },
      {
        label: seriesNames[1],
        data: toPoints(sbdartMain.concat(sbdartCore, sbdartFill)),
        pointStyle: 'crossRot',
        pointRadius: 8,
        pointBorderWidth: 1.2,
        borderColor: seriesColors[1],
        backgroundColor: seriesColors[1],
        order: 0,
        clip: false
      }
    ]
  },
  options: {
    responsive: false,
    devicePixelRatio: 1,
    animation: false,
    events: [],
    layout: { padding: { left: 0, right: 28.5, top: 82, bottom: 0 } },
    plugins: {
      legend: { display: false },
      tooltip: { enabled: false },
      title: { display: false }
    },
    scales: {
      x: {
        type: 'linear',
        min: 0,
        max: 1.4,
        afterBuildTicks: s => { s.ticks = xTickValues.map(v => ({ value: v })); },
        afterFit: s => { s.height = 103; s.paddingLeft = 0; s.paddingRight = 0; },
        grid: { display: false, drawTicks: false },
        border: { display: false },
        ticks: {
          autoSkip: false,
          maxRotation: 0,
          padding: 13,
          color: '#000',
          font: { family: FONT, size: 33 },
          callback: (v, i) => xTickLabels[i]
        },
        title: {
          display: true,
          text: xTitle,
          color: '#000',
          font: { family: FONT, size: 34, lineHeight: 1 },
          padding: { top: 0, bottom: 0 }
        }
      },
      y: {
        type: 'linear',
        min: 0,
        max: 2.5,
        afterBuildTicks: s => { s.ticks = yTickValues.map(v => ({ value: v })); },
        afterFit: s => { s.width = 148; s.paddingTop = 0; s.paddingBottom = 0; },
        grid: { display: false, drawTicks: false },
        border: { display: false },
        ticks: {
          autoSkip: false,
          padding: 21,
          color: '#000',
          font: { family: FONT, size: 33 },
          callback: (v, i) => yTickLabels[i]
        },
        title: {
          display: true,
          text: yTitle,
          color: '#000',
          font: { family: FONT, size: 34, lineHeight: 1 },
          padding: { top: 11, bottom: 0 }
        }
      }
    }
  },
  plugins: [framePlugin]
});
</script>
</body>
</html>
